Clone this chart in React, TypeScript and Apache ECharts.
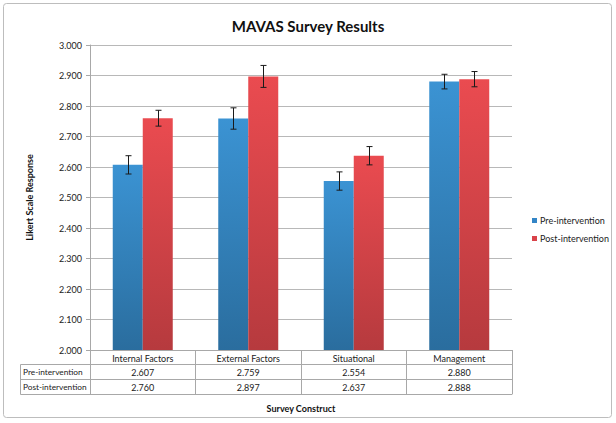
import React, { useEffect, useRef } from "react";
import * as echarts from "echarts";

const categories = ["Internal Factors", "External Factors", "Situational", "Management"];
const seriesNames = ["Pre-intervention", "Post-intervention"];
const preValues = [2.607, 2.759, 2.554, 2.88];
const postValues = [2.76, 2.897, 2.637, 2.888];
const preErrors = [0.03, 0.035, 0.03, 0.024];
const postErrors = [0.026, 0.036, 0.03, 0.025];
const yMin = 2;
const yMax = 3;
const yStep = 0.1;

const FONT = "Lato, 'Open Sans', sans-serif";
const TABLE_LINE = "#a8a8a8";

export default function App() {
  const ref = useRef<HTMLDivElement>(null);
  useEffect(() => {
    if (!ref.current) return;
    const chart = echarts.init(ref.current, null, { renderer: "svg" });
    const gridLeft = 90;
    const gridTop = 45;
    const gridBottomY = 350;
    const barW = 30;

    const blueGrad = new echarts.graphic.LinearGradient(0, 0, 0, 1, [
      { offset: 0, color: "#3b93d3" },
      { offset: 1, color: "#2a6d9e" },
    ]);
    const redGrad = new echarts.graphic.LinearGradient(0, 0, 0, 1, [
      { offset: 0, color: "#ea4b50" },
      { offset: 1, color: "#b63a3e" },
    ]);

    const errorSeries = (vals: number[], errs: number[], offset: number) => ({
      type: "custom",
      silent: true,
      z: 5,
      xAxisIndex: 0,
      yAxisIndex: 0,
      data: vals.map((v, i) => [i, v, errs[i]]),
      renderItem: (params: any, api: any) => {
        const i = api.value(0);
        const v = api.value(1);
        const e = api.value(2);
        const top = api.coord([i, v + e]);
        const bot = api.coord([i, v - e]);
        const x = Math.round(top[0] + offset) + 0.5;
        const st = { stroke: "#1a1a1a", lineWidth: 1 };
        return {
          type: "group",
          children: [
            { type: "line", shape: { x1: x, y1: top[1], x2: x, y2: bot[1] }, style: st },
            { type: "line", shape: { x1: x - 3, y1: top[1], x2: x + 3, y2: top[1] }, style: st },
            { type: "line", shape: { x1: x - 3, y1: bot[1], x2: x + 3, y2: bot[1] }, style: st },
          ],
        };
      },
    });

    const tableAxis = (data: string[], offset: number, showLabel: boolean, extra: any = {}) => ({
      type: "category",
      position: "bottom",
      gridIndex: 0,
      offset,
      data,
      axisLine: { show: true, lineStyle: { color: TABLE_LINE, width: 1 } },
      axisTick: { show: false },
      axisLabel: {
        show: showLabel,
        margin: 4,
        fontSize: 9,
        color: "#222",
        fontFamily: FONT,
      },
      splitLine: { show: false },
      ...extra,
    });

    chart.setOption({
      animation: false,
      backgroundColor: "#fff",
      textStyle: { fontFamily: FONT },
      title: {
        text: "MAVAS Survey Results",
        left: "center",
        top: 13,
        textStyle: { fontSize: 15, fontWeight: "bold", color: "#111", fontFamily: FONT },
      },
      legend: {
        orient: "vertical",
        left: 527,
        top: 211,
        itemWidth: 5,
        itemHeight: 5,
        itemGap: 9,
        icon: "rect",
        textStyle: { fontSize: 9, color: "#222", fontFamily: FONT, padding: [0, 0, 0, -2] },
        data: [
          { name: seriesNames[0], itemStyle: { color: "#3385c6" } },
          { name: seriesNames[1], itemStyle: { color: "#d9434a" } },
        ],
      },
      grid: { left: gridLeft, top: gridTop, right: 104, bottom: 423 - gridBottomY, containLabel: false },
      xAxis: [
        {
          type: "category",
          position: "bottom",
          data: categories,
          axisLine: { show: true, lineStyle: { color: TABLE_LINE } },
          axisTick: { show: true, interval: 0, length: 44, lineStyle: { color: TABLE_LINE } },
          axisLabel: { interval: 0, margin: 4, fontSize: 9, color: "#222", fontFamily: FONT },
          splitLine: { show: false },
        },
        tableAxis(preValues.map((v) => v.toFixed(3)), 14, true),
        tableAxis(postValues.map((v) => v.toFixed(3)), 29, true),
        tableAxis(categories, 44, false, {
          name: "Survey Construct",
          nameLocation: "middle",
          nameGap: 10,
          nameTextStyle: { fontSize: 9, fontWeight: "bold", color: "#111", fontFamily: FONT },
        }),
      ],
      yAxis: {
        type: "value",
        min: yMin,
        max: yMax,
        interval: yStep,
        name: "Likert Scale Response",
        nameLocation: "middle",
        nameGap: 56,
        nameTextStyle: { fontSize: 9, fontWeight: "bold", color: "#111", fontFamily: FONT },
        axisLine: { show: true, lineStyle: { color: TABLE_LINE } },
        axisTick: { show: true, length: 4, lineStyle: { color: TABLE_LINE } },
        axisLabel: {
          margin: 8,
          fontSize: 9,
          color: "#222",
          fontFamily: FONT,
          formatter: (v: number) => v.toFixed(3),
        },
        splitLine: { show: true, lineStyle: { color: "#b8b8b8", width: 1 } },
      },
      series: [
        {
          name: seriesNames[0],
          type: "bar",
          barWidth: barW,
          barGap: "0%",
          data: preValues,
          itemStyle: { color: blueGrad },
        },
        {
          name: seriesNames[1],
          type: "bar",
          barWidth: barW,
          barGap: "0%",
          data: postValues,
          itemStyle: { color: redGrad },
        },
        errorSeries(preValues, preErrors, -barW / 2),
        errorSeries(postValues, postErrors, barW / 2),
      ],
      graphic: [
        {
          type: "rect",
          z: -10,
          silent: true,
          shape: { x: 3.5, y: 3.5, width: 608, height: 414, r: 3 },
          style: { fill: "none", stroke: "#bdbdbd", lineWidth: 1 },
        },
        {
          type: "polyline",
          silent: true,
          shape: { points: [[gridLeft, 364.5], [20.5, 364.5], [20.5, 394.5], [gridLeft, 394.5]] },
          style: { fill: "none", stroke: TABLE_LINE, lineWidth: 1 },
        },
        {
          type: "line",
          silent: true,
          shape: { x1: 20.5, y1: 379.5, x2: gridLeft, y2: 379.5 },
          style: { stroke: TABLE_LINE, lineWidth: 1 },
        },
        {
          type: "text",
          silent: true,
          x: 23,
          y: 372,
          style: { text: seriesNames[0], fontSize: 8.3, fill: "#222", fontFamily: FONT, verticalAlign: "middle" },
        },
        {
          type: "text",
          silent: true,
          x: 23,
          y: 387,
          style: { text: seriesNames[1], fontSize: 8.3, fill: "#222", fontFamily: FONT, verticalAlign: "middle" },
        },
      ],
    });
    return () => chart.dispose();
  }, []);
  return (
    <div
      ref={ref}
      style={{ position: "absolute", left: 0, top: 0, width: 616, height: 423, background: "#fff" }}
    />
  );
}
